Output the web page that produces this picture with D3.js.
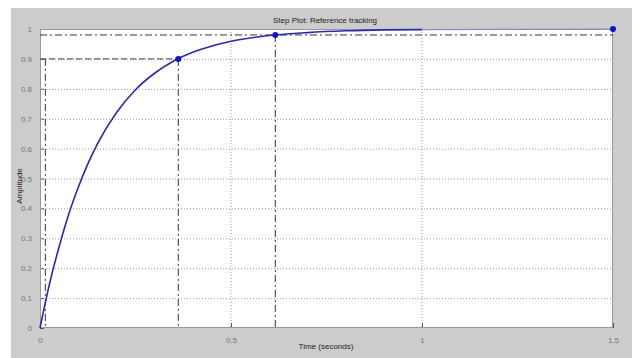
<!DOCTYPE html>
<html><head><meta charset="utf-8">
<script src="https://cdn.jsdelivr.net/npm/d3@7"></script>
<style>html,body{margin:0;padding:0;background:#fff;}svg{display:block;}</style>
</head><body>
<script>
const time = [0, 0.025, 0.05, 0.075, 0.1, 0.125, 0.15, 0.2, 0.25, 0.3, 0.35, 0.4, 0.45, 0.5, 0.6, 0.7, 0.8, 0.9, 1.0];
const amplitude = [0, 0.148, 0.272, 0.38, 0.47, 0.548, 0.615, 0.72, 0.797, 0.852, 0.893, 0.922, 0.943, 0.959, 0.978, 0.988, 0.994, 0.997, 0.998];
const tailTime = [1.0, 1.5];
const tailAmp = [0.998, 1.0];
const riseStart = 0.014, riseEnd = 0.362, riseLevel = 0.9;
const settleTime = 0.616, settleLevel = 0.98;
const finalTime = 1.5, finalValue = 1.0;
const xTicks = [0, 0.5, 1, 1.5];
const xTickLabels = ["0", "0.5", "1", "1.5"];
const yTicks = [0, 0.1, 0.2, 0.3, 0.4, 0.5, 0.6, 0.7, 0.8, 0.9, 1];
const yTickLabels = ["0", "0.1", "0.2", "0.3", "0.4", "0.5", "0.6", "0.7", "0.8", "0.9", "1"];
const title = "Step Plot: Reference tracking";
const xLabel = "Time (seconds)";
const yLabel = "Amplitude";

const W = 632, H = 358;
const L = 40, R = 613, T = 29, B = 328;
const svg = d3.select("body").append("svg").attr("width", W).attr("height", H);
svg.append("rect").attr("x", 11).attr("y", 8).attr("width", W - 11).attr("height", H - 8).attr("fill", "#cccccc");
const x = d3.scaleLinear().domain([0, 1.5]).range([L, R]);
const y = d3.scaleLinear().domain([0, 1]).range([B, T]);
svg.append("rect").attr("x", L).attr("y", T).attr("width", R - L).attr("height", B - T).attr("fill", "#fff");

const font = "Liberation Sans, Arial, sans-serif";
// grid
const g = svg.append("g");
g.selectAll(".gx").data(xTicks.slice(1, -1)).enter().append("line")
  .attr("x1", d => x(d)).attr("x2", d => x(d)).attr("y1", T).attr("y2", B)
  .attr("stroke", "#999").attr("stroke-width", 1).attr("stroke-dasharray", "1,2");
g.selectAll(".gy").data(yTicks.slice(1, -1)).enter().append("line")
  .attr("x1", L).attr("x2", R).attr("y1", d => y(d) + 0.5).attr("y2", d => y(d) + 0.5)
  .attr("stroke", "#999").attr("stroke-width", 1).attr("stroke-dasharray", "1,2");

// axes with inward ticks
const xAxis = d3.axisBottom(x).tickValues(xTicks).tickFormat((d, i) => xTickLabels[i]).tickSizeInner(-5).tickSizeOuter(0).tickPadding(9);
const yAxis = d3.axisLeft(y).tickValues(yTicks).tickFormat((d, i) => yTickLabels[i]).tickSizeInner(-4).tickSizeOuter(0).tickPadding(8);
const ax = svg.append("g").attr("transform", `translate(0,${B})`).call(xAxis);
const ay = svg.append("g").attr("transform", `translate(${L},0)`).call(yAxis);
[ax, ay].forEach(a => {
  a.select(".domain").remove();
  a.selectAll("line").attr("stroke", "#555");
  a.selectAll("text").attr("fill", "#777").attr("font-size", 8).attr("font-family", font);
});
// box
svg.append("rect").attr("x", L + 0.5).attr("y", T + 0.5).attr("width", R - L - 1).attr("height", B - T - 1)
  .attr("fill", "none").attr("stroke", "#999").attr("stroke-width", 1);

// characteristic lines
const dashDot = "7,3,2,3";
svg.append("line").attr("x1", L).attr("x2", R).attr("y1", y(settleLevel)).attr("y2", y(settleLevel))
  .attr("stroke", "#333").attr("stroke-dasharray", dashDot);
svg.append("line").attr("x1", L).attr("x2", x(riseEnd)).attr("y1", y(riseLevel)).attr("y2", y(riseLevel))
  .attr("stroke", "#444").attr("stroke-dasharray", "6,3");
svg.append("line").attr("x1", x(riseStart)).attr("x2", x(riseStart)).attr("y1", y(riseLevel)).attr("y2", B)
  .attr("stroke", "#333").attr("stroke-dasharray", dashDot);
svg.append("line").attr("x1", x(riseEnd)).attr("x2", x(riseEnd)).attr("y1", y(riseLevel)).attr("y2", B)
  .attr("stroke", "#333").attr("stroke-dasharray", dashDot);
svg.append("line").attr("x1", x(settleTime)).attr("x2", x(settleTime)).attr("y1", y(settleLevel)).attr("y2", B)
  .attr("stroke", "#333").attr("stroke-dasharray", dashDot);

// curve
const pts = time.map((t, i) => [t, amplitude[i]]);
const line = d3.line().x(d => x(d[0])).y(d => y(d[1])).curve(d3.curveMonotoneX);
svg.append("path").attr("d", line(pts)).attr("fill", "none").attr("stroke", "#2a2aa8").attr("stroke-width", 1.6);
const tail = tailTime.map((t, i) => [t, tailAmp[i]]);
svg.append("path").attr("d", line(tail)).attr("fill", "none").attr("stroke", "#8888cc").attr("stroke-width", 1.2);

// markers
const marks = [[riseEnd, riseLevel], [settleTime, settleLevel], [finalTime, finalValue]];
svg.selectAll(".m").data(marks).enter().append("circle")
  .attr("cx", d => x(d[0])).attr("cy", d => y(d[1])).attr("r", 3).attr("fill", "#1010d0");

// labels
svg.append("text").attr("x", 325).attr("y", 23).attr("text-anchor", "middle").attr("font-size", 8)
  .attr("font-family", font).attr("fill", "#222").text(title);
svg.append("text").attr("x", 326).attr("y", 349).attr("text-anchor", "middle").attr("font-size", 8)
  .attr("font-family", font).attr("fill", "#222").text(xLabel);
svg.append("text").attr("transform", "translate(22,186) rotate(-90)").attr("text-anchor", "middle").attr("font-size", 8)
  .attr("font-family", font).attr("fill", "#222").text(yLabel);
</script>
</body></html>
